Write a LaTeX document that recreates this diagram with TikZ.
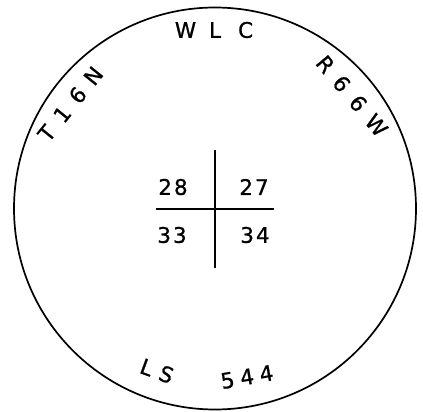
\documentclass[tikz,border=0pt]{standalone}
\usepackage{fontspec}
\newfontfamily\plotfont{DejaVu Sans}[FakeBold=0.9]
\usetikzlibrary{positioning}
\tikzset{%
  lbl/.style={inner sep=0pt,font=\fontsize{21.5}{22}\plotfont},
  num/.style={inner sep=0pt,font=\fontsize{21.5}{22}\plotfont},
  rim/.style={line width=1.7pt},
  rule/.style={line width=1.6pt}
}

\begin{document}
\begin{tikzpicture}[x=1pt,y=-1pt]
\useasboundingbox (0,0) rectangle (423,412);

% Outer circle
\draw[rim] (215,208.5) circle [radius=201pt];

% Labels round the rim
\node[lbl] (wlc) at (214,30) {W\hspace{13pt}L\hspace{17pt}C};
\node[lbl, rotate=51] (town) at (70.5,104) {T\hspace{11pt}1\hspace{11pt}6\hspace{10pt}N};
\node[lbl, rotate=-50] (range) at (352,96) {R\hspace{11pt}6\hspace{12pt}6\hspace{11pt}W};
\node[lbl, rotate=-20] (ls) at (157,371) {L\hspace{8pt}S};
\node[lbl, rotate=10] (lsno) at (247,377) {5\hspace{6pt}4\hspace{6pt}4};

% Section corner
\coordinate (top) at (215,150);
\coordinate (bot) at (215,268);
\coordinate (lft) at (156,209);
\coordinate (rgt) at (274,209);
\draw[rule] (top) -- (bot);
\draw[rule] (lft) -- (rgt);

\node[num] (s28) at (173,187) {2\hspace{2pt}8};
\node[num] (s27) at (254,187) {2\hspace{2pt}7};
\node[num] (s33) at (172,235) {3\hspace{2pt}3};
\node[num] (s34) at (255,235) {3\hspace{2pt}4};

\end{tikzpicture}
\end{document}
